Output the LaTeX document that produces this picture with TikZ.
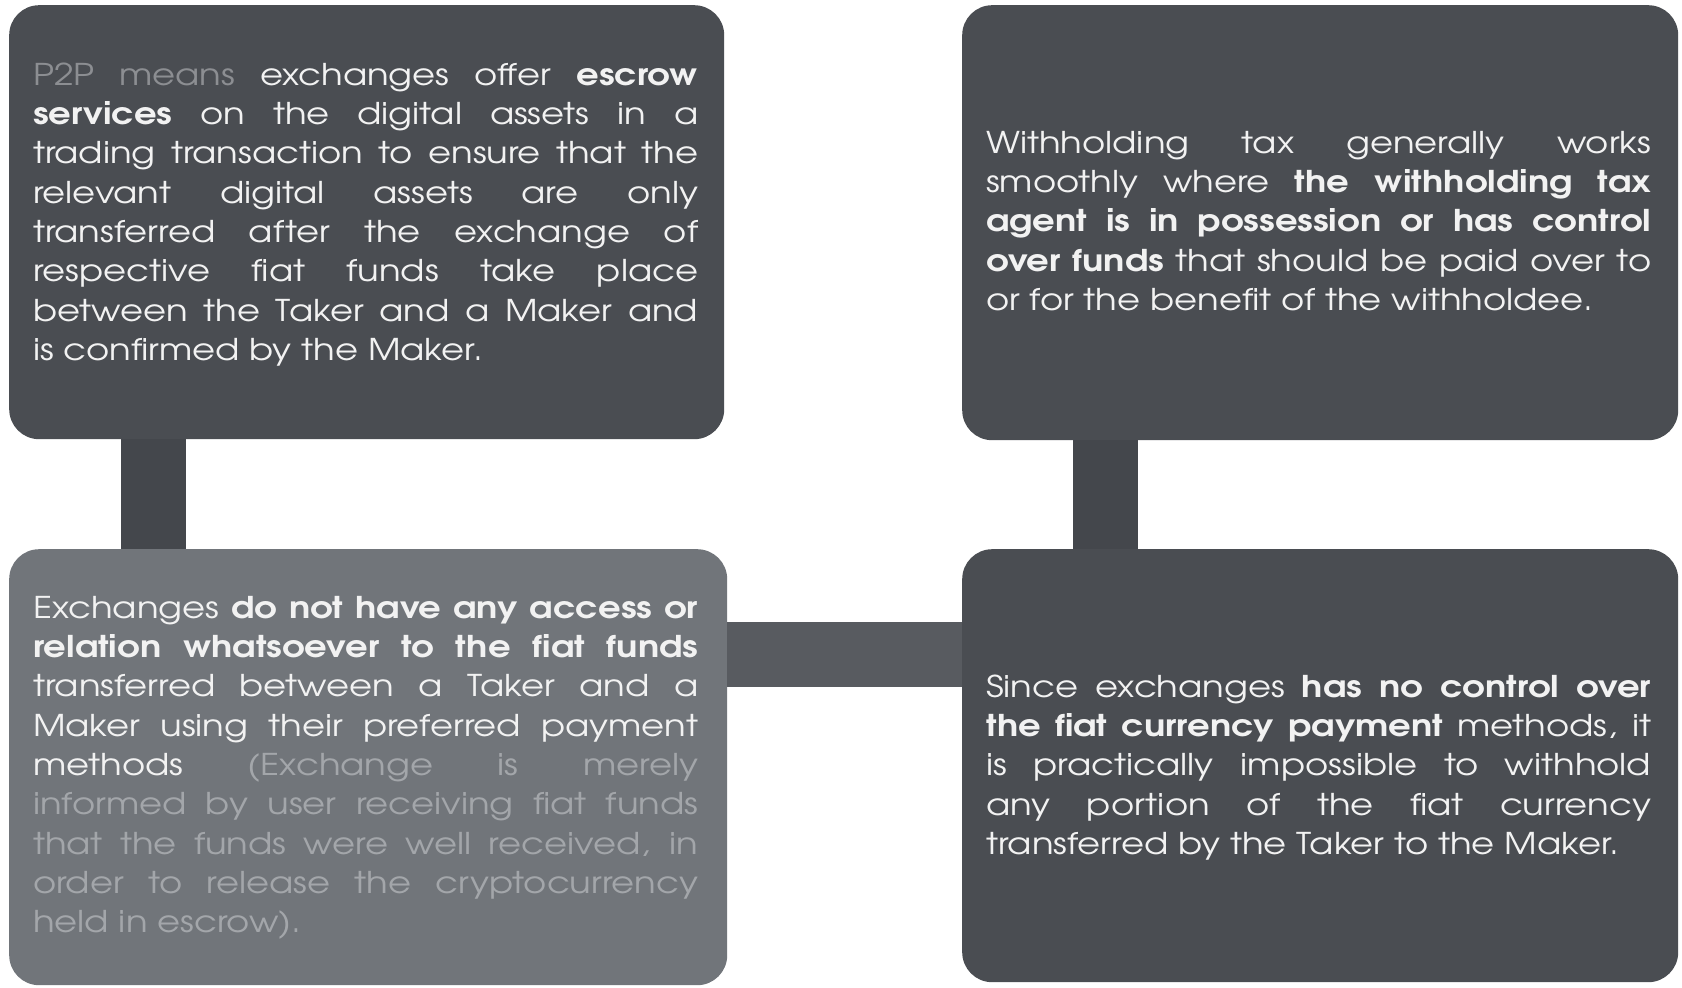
\documentclass[tikz,border=0pt]{standalone}
\usepackage{fontspec}
\setmainfont[FakeStretch=1.18, WordSpace={1,1,2}]{TeX Gyre Adventor}

\definecolor{boxdark}{RGB}{74,77,82}
\definecolor{boxlight}{RGB}{113,117,122}
\definecolor{linkdark}{RGB}{68,71,76}
\definecolor{linkmid}{RGB}{88,91,96}
\definecolor{textwhite}{RGB}{242,242,242}
\definecolor{mutedA}{RGB}{140,142,146}
\definecolor{mutedB}{RGB}{163,166,170}

\tikzset{
  panel/.style={rounded corners=30pt, inner sep=0pt, anchor=north west},
  link/.style={line width=65pt, line cap=butt},
  para/.style={anchor=north west, inner sep=0pt, text width=665pt, align=justify,
    text=textwhite, font=\fontsize{30}{39.3}\selectfont},
}
\newcommand{\firstline}{\rule{0pt}{24pt}}

\begin{document}
\begin{tikzpicture}[x=1pt,y=-1pt]
\useasboundingbox[fill=white] (0,0) rectangle (1682,988);

% panels
\node[panel, fill=boxdark, minimum width=715pt, minimum height=434pt] (tl) at (9,5) {};
\node[panel, fill=boxdark, minimum width=716pt, minimum height=435pt] (tr) at (962,5) {};
\node[panel, fill=boxlight, minimum width=718pt, minimum height=436pt] (bl) at (9,549) {};
\node[panel, fill=boxdark, minimum width=716pt, minimum height=433pt] (br) at (962,549) {};

% links between panels
\draw[link, linkdark] ([xshift=144.5pt]tl.south west) -- ([xshift=144.5pt]bl.north west);
\draw[link, linkdark] ([xshift=143pt]tr.south west) -- ([xshift=143pt]br.north west);
\draw[link, linkmid] ([yshift=-105.5pt]bl.north east) -- ([yshift=-105.5pt]br.north west);

% texts
\node[para] (ttl) at (33,61) {\firstline\textcolor{mutedA}{P2P means} exchanges offer \textbf{escrow}\linebreak
\textbf{services} on the digital assets in a\linebreak
trading transaction to ensure that the\linebreak
relevant digital assets are only\linebreak
transferred after the exchange of\linebreak
respective fiat funds take place\linebreak
between the Taker and a Maker and\linebreak
is confirmed by the Maker.};

\node[para] (ttr) at (986,129) {\firstline Withholding tax generally works\linebreak
smoothly where \textbf{the withholding tax}\linebreak
\textbf{agent is in possession or has control}\linebreak
\textbf{over funds} that should be paid over to\linebreak
or for the benefit of the withholdee.};

\node[para] (tbl) at (33,594) {\firstline Exchanges \textbf{do not have any access or}\linebreak
\textbf{relation whatsoever to the fiat funds}\linebreak
transferred between a Taker and a\linebreak
Maker using their preferred payment\linebreak
methods \textcolor{mutedB}{(Exchange is merely\linebreak
informed by user receiving fiat funds\linebreak
that the funds were well received, in\linebreak
order to release the cryptocurrency\linebreak
held in escrow).}};

\node[para] (tbr) at (986,673) {\firstline Since exchanges \textbf{has no control over}\linebreak
\textbf{the fiat currency payment} methods, it\linebreak
is practically impossible to withhold\linebreak
any portion of the fiat currency\linebreak
transferred by the Taker to the Maker.};
\end{tikzpicture}
\end{document}
